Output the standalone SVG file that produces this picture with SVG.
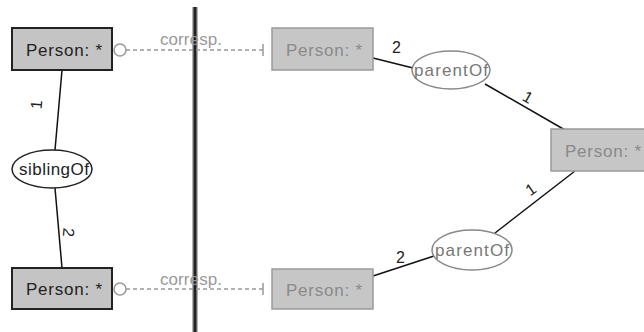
<svg xmlns="http://www.w3.org/2000/svg" width="644" height="332" viewBox="0 0 644 332">
<style>
.txt{font-family:"Liberation Sans","DejaVu Sans",sans-serif;font-size:17px}
.lbl{font-family:"Liberation Sans","DejaVu Sans",sans-serif;font-size:16px;fill:#222}
.src rect{fill:#c4c4c4;stroke:#222;stroke-width:2}
.src text{fill:#222}
.tgt rect{fill:#c6c6c6;stroke:#9a9a9a;stroke-width:1.5}
.tgt text{fill:#8a8a8a}
.rel ellipse{fill:#fff;stroke:#222;stroke-width:1.5}
.rel2 ellipse{fill:#fff;stroke:#888;stroke-width:1.5}
.rel2 text{fill:#777}
.edge{stroke:#111;stroke-width:1.5;fill:none}
.corr{stroke:#999;stroke-width:1.5;stroke-dasharray:4 3;fill:none}
.ctxt{font-family:"Liberation Sans","DejaVu Sans",sans-serif;font-size:17px;fill:#999}
</style>
<rect width="644" height="332" fill="#fff"/>
<g id="separator">
<rect x="192.5" y="7" width="5" height="325" fill="#666"/>
<line x1="195" y1="7" x2="195" y2="332" stroke="#222" stroke-width="2"/>
</g>
<g id="connectors">
<line class="edge" x1="62" y1="70" x2="55" y2="150"/>
<line class="edge" x1="55" y1="188" x2="62" y2="268"/>
<line class="edge" x1="373" y1="58" x2="413" y2="68"/>
<line class="edge" x1="485" y1="84" x2="565" y2="130"/>
<line class="edge" x1="575" y1="171" x2="495" y2="233"/>
<line class="edge" x1="434" y1="256" x2="373" y2="276"/>
<line class="corr" x1="126" y1="50" x2="263" y2="50"/>
<line class="corr" x1="126" y1="289" x2="263" y2="289"/>
<line x1="263" y1="44" x2="263" y2="56" stroke="#999" stroke-width="1.5"/>
<line x1="263" y1="283" x2="263" y2="295" stroke="#999" stroke-width="1.5"/>
<circle cx="120" cy="50" r="6" fill="#fff" stroke="#999" stroke-width="1.5"/>
<circle cx="120" cy="289" r="6" fill="#fff" stroke="#999" stroke-width="1.5"/>
<text class="ctxt" x="160" y="45" textLength="62">corresp.</text>
<text class="ctxt" x="160" y="285" textLength="62">corresp.</text>
<text class="lbl" transform="translate(42,105) rotate(-85)" text-anchor="middle">1</text>
<text class="lbl" transform="translate(63,232) rotate(95)" text-anchor="middle">2</text>
<text class="lbl" x="392" y="53">2</text>
<text class="lbl" transform="translate(525,102) rotate(30)" text-anchor="middle">1</text>
<text class="lbl" transform="translate(534,194) rotate(-35)" text-anchor="middle">1</text>
<text class="lbl" x="396" y="263">2</text>
</g>
<g id="n_person_l1" class="src">
<rect x="12" y="28" width="100" height="42"/>
<text class="txt" x="26" y="56" textLength="76">Person: *</text>
</g>
<g id="n_person_l2" class="src">
<rect x="12" y="268" width="100" height="41"/>
<text class="txt" x="26" y="295" textLength="76">Person: *</text>
</g>
<g id="n_siblingOf" class="rel">
<ellipse cx="52" cy="169" rx="40" ry="19"/>
<text class="txt" x="19" y="175" textLength="70" fill="#222" font-size="16">siblingOf</text>
</g>
<g id="n_person_r1" class="tgt">
<rect x="272" y="28" width="101" height="42"/>
<text class="txt" x="286" y="56" textLength="76">Person: *</text>
</g>
<g id="n_person_r2" class="tgt">
<rect x="272" y="269" width="101" height="40"/>
<text class="txt" x="286" y="296" textLength="76">Person: *</text>
</g>
<g id="n_person_r3" class="tgt">
<rect x="551" y="129" width="110" height="42"/>
<text class="txt" x="565" y="157" textLength="76">Person: *</text>
</g>
<g id="n_parentOf1" class="rel2">
<ellipse cx="451" cy="70" rx="39" ry="19"/>
<text class="txt" x="414" y="76" textLength="74" font-size="16">parentOf</text>
</g>
<g id="n_parentOf2" class="rel2">
<ellipse cx="472" cy="250" rx="40" ry="20"/>
<text class="txt" x="435" y="256" textLength="74" font-size="16">parentOf</text>
</g>
</svg>
